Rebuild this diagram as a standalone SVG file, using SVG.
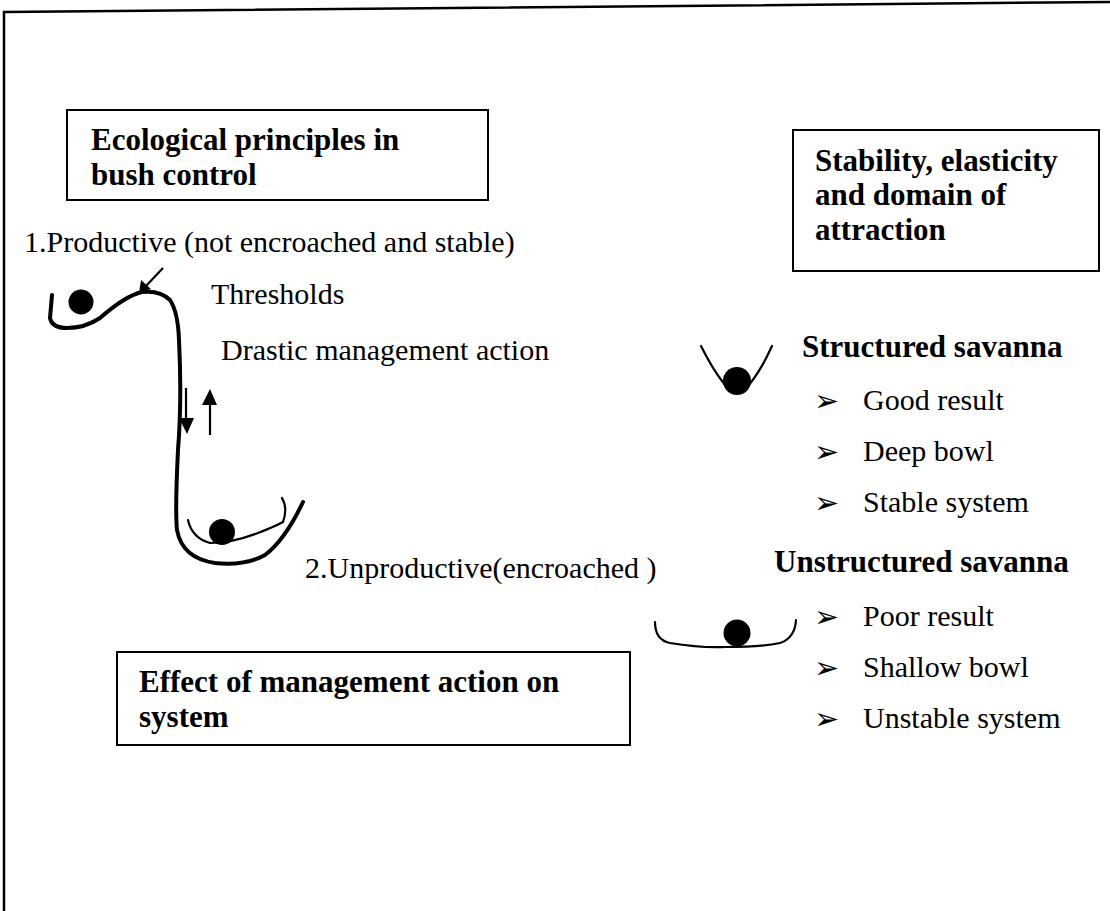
<svg xmlns="http://www.w3.org/2000/svg" width="1110" height="911" viewBox="0 0 1110 911">
<defs>
<style>
.frame{fill:none;stroke:#000;stroke-width:2.5}
.box{fill:#fff;stroke:#000;stroke-width:2}
.b{font-family:"Liberation Serif","Times New Roman",serif;font-weight:bold;font-size:31px;fill:#000}
.r{font-family:"Liberation Serif","Times New Roman",serif;font-size:30px;fill:#000}
.bul{font-family:"DejaVu Sans",sans-serif;font-size:30px;fill:#000}
.thick{fill:none;stroke:#000;stroke-width:4;stroke-linecap:round;stroke-linejoin:round}
.thin{fill:none;stroke:#000;stroke-width:2.2;stroke-linecap:round}
.ball{fill:#000}
.arr{fill:none;stroke:#000;stroke-width:2.2}
</style>
</defs>
<rect x="0" y="0" width="1110" height="911" fill="#fff"/>
<polyline class="frame" points="4,911 4,12 1110,2"/>

<g id="box-ecological">
<rect class="box" x="67" y="110" width="421" height="90"/>
<text class="b" x="91" y="150">Ecological principles in</text>
<text class="b" x="91" y="185">bush control</text>
</g>

<g id="box-stability">
<rect class="box" x="793" y="130" width="306" height="141"/>
<text class="b" x="815" y="171">Stability, elasticity</text>
<text class="b" x="815" y="205">and domain of</text>
<text class="b" x="815" y="240">attraction</text>
</g>

<g id="box-effect">
<rect class="box" x="117" y="652" width="513" height="93"/>
<text class="b" x="139" y="692">Effect of management action on</text>
<text class="b" x="139" y="727">system</text>
</g>

<g id="landscape">
<path class="thick" d="M52,295 L50,318 Q52,328 67,328 Q85,328 100,318 Q125,296 142,292 Q160,290 170,300 Q178,312 179,340 Q182,400 178,450 Q175,510 177,530 Q182,558 215,563 Q245,566 265,555 Q285,540 303,502"/>
<path class="thin" d="M188,520 Q192,538 210,543 Q232,543 258,533 Q278,525 283,522 Q288,508 282,498"/>
<circle class="ball" cx="81" cy="302" r="12.5"/>
<circle class="ball" cx="222" cy="532" r="13"/>
</g>

<g id="label-productive"><text class="r" x="24" y="252">1.Productive (not encroached and stable)</text></g>
<g id="label-thresholds"><text class="r" x="211" y="304">Thresholds</text></g>
<g id="label-drastic"><text class="r" x="221" y="360">Drastic management action</text></g>
<g id="label-unproductive"><text class="r" x="305" y="578">2.Unproductive(encroached )</text></g>

<g id="connectors">
<line class="arr" x1="163" y1="268" x2="145" y2="287"/>
<polygon points="139,293 141,280 151,289" fill="#000"/>
<line class="arr" x1="186" y1="388" x2="186" y2="420"/>
<polygon points="179,418 194,418 187,434" fill="#000"/>
<line class="arr" x1="210" y1="435" x2="210" y2="402"/>
<polygon points="202,405 217,405 210,389" fill="#000"/>
</g>

<g id="structured">
<path class="thin" d="M701,346 Q712,368 722,381 Q737,402 752,381 Q762,368 772,346"/>
<circle class="ball" cx="737" cy="381" r="14"/>
<text class="b" x="802" y="357">Structured savanna</text>
<text class="bul" x="814" y="411">➢</text>
<text class="r" x="863" y="410">Good result</text>
<text class="bul" x="814" y="462">➢</text>
<text class="r" x="863" y="461">Deep bowl</text>
<text class="bul" x="814" y="513">➢</text>
<text class="r" x="863" y="512">Stable system</text>
</g>

<g id="unstructured">
<path class="thin" d="M655,622 Q655,640 670,643 Q700,648 725,647 Q760,647 780,643 Q795,638 796,620"/>
<circle class="ball" cx="737" cy="633" r="13.5"/>
<text class="b" x="774" y="572">Unstructured savanna</text>
<text class="bul" x="814" y="627">➢</text>
<text class="r" x="863" y="626">Poor result</text>
<text class="bul" x="814" y="678">➢</text>
<text class="r" x="863" y="677">Shallow bowl</text>
<text class="bul" x="814" y="729">➢</text>
<text class="r" x="863" y="728">Unstable system</text>
</g>
</svg>
